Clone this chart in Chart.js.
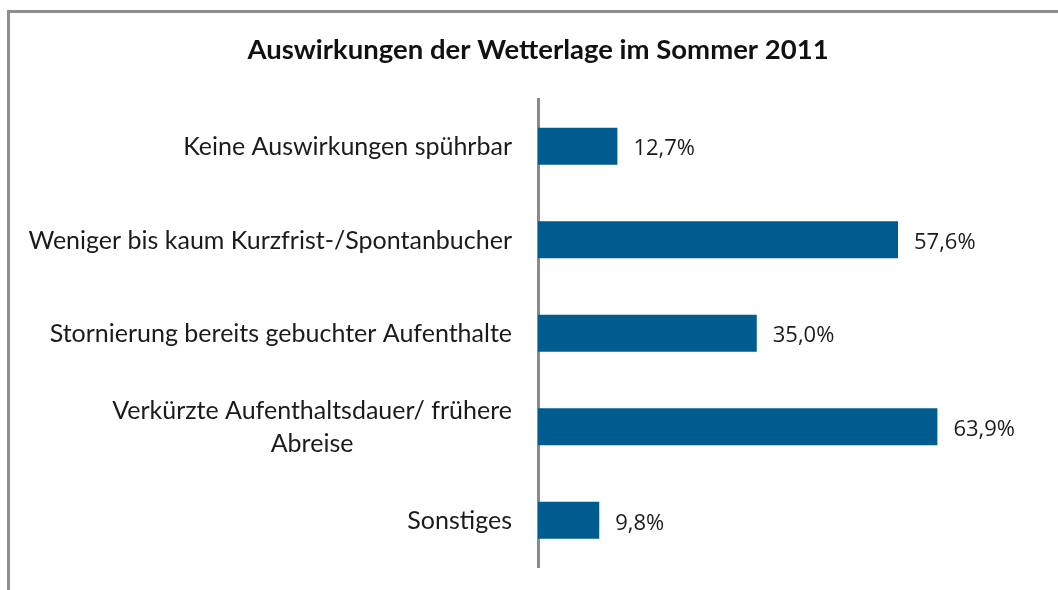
<!DOCTYPE html>
<html>
<head>
<meta charset="utf-8">
<script src="https://cdn.jsdelivr.net/npm/chart.js@4"></script>
<style>
  html, body { margin: 0; padding: 0; background: #fff; overflow: hidden; }
  #wrap { position: relative; width: 1058px; height: 590px; }
  #frame { position: absolute; left: 7px; top: 10px; width: 1100px; height: 700px;
           border-left: 3px solid #8e8e8e; border-top: 3px solid #8e8e8e; box-sizing: border-box; }
  canvas { position: absolute; left: 0; top: 0; }
</style>
</head>
<body>
<div id="wrap">
  <div id="frame"></div>
  <canvas id="c" width="1058" height="590"></canvas>
</div>
<script>
const titleText = "Auswirkungen der Wetterlage im Sommer 2011";
const categories = [
  ["Keine Auswirkungen spührbar"],
  ["Weniger bis kaum Kurzfrist-/Spontanbucher"],
  ["Stornierung bereits gebuchter Aufenthalte"],
  ["Verkürzte Aufenthaltsdauer/ frühere", "Abreise"],
  ["Sonstiges"]
];
const values = [12.7, 57.6, 35.0, 63.9, 9.8];
const valueLabels = ["12,7%", "57,6%", "35,0%", "63,9%", "9,8%"];

const labelPlugin = {
  id: 'customLabels',
  afterDatasetsDraw(chart) {
    const ctx = chart.ctx;
    const yScale = chart.scales.y;
    const area = chart.chartArea;
    ctx.save();
    // category labels
    ctx.font = '25px Lato';
    ctx.fillStyle = '#1b1b1b';
    ctx.textAlign = 'center';
    ctx.textBaseline = 'middle';
    const lh = 33;
    const rightEdge = area.left - 26;
    categories.forEach((lines, i) => {
      const cy = yScale.getPixelForValue(i);
      const w = Math.max(...lines.map(l => ctx.measureText(l).width));
      const cx = rightEdge - w / 2;
      lines.forEach((l, j) => {
        ctx.fillText(l, cx, cy + 1 + (j - (lines.length - 1) / 2) * lh);
      });
    });
    // value labels
    ctx.font = '22px "Open Sans"';
    ctx.textAlign = 'left';
    const meta = chart.getDatasetMeta(0);
    meta.data.forEach((bar, i) => {
      ctx.fillText(valueLabels[i], bar.x + 16, bar.y + 3);
    });
    ctx.restore();
  }
};

new Chart(document.getElementById('c'), {
  type: 'bar',
  data: {
    labels: categories.map(c => c.join(' ')),
    datasets: [{
      data: values,
      backgroundColor: '#005b8f',
      borderWidth: 0,
      categoryPercentage: 1,
      barPercentage: 0.395
    }]
  },
  options: {
    indexAxis: 'y',
    responsive: false,
    animation: false,
    layout: { padding: { left: 38, right: 20, top: 0, bottom: 23 } },
    plugins: {
      legend: { display: false },
      tooltip: { enabled: false },
      title: {
        display: true,
        text: titleText,
        color: '#111',
        font: { family: 'Lato', size: 27.5, weight: 'bold' },
        padding: { top: 34, bottom: 32.4 }
      }
    },
    scales: {
      x: { display: false, min: 0, max: 80 },
      y: {
        display: true,
        afterFit(axis) { axis.width = 500; },
        ticks: { display: false },
        grid: { display: false, drawTicks: false },
        border: { display: true, color: '#8a8a8a', width: 3 }
      }
    }
  },
  plugins: [labelPlugin]
});
</script>
</body>
</html>
